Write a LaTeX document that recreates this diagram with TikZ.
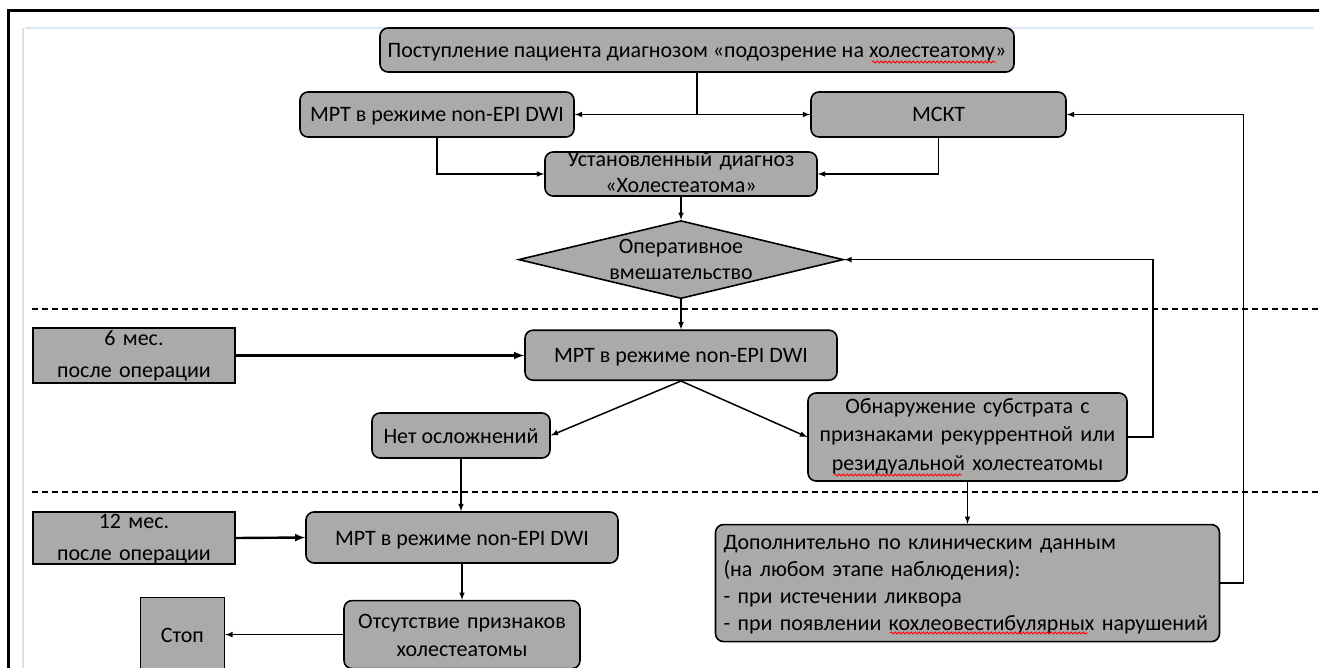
\documentclass[tikz,border=0pt]{standalone}
\usepackage{fontspec}
\setmainfont{Carlito}
\usepackage{tikz}
\usetikzlibrary{shapes,arrows,positioning,decorations.pathmorphing}
\definecolor{boxgray}{RGB}{172, 169, 169}
\definecolor{pageline}{RGB}{220, 231, 241}
\tikzstyle{box} = [rectangle, rounded corners=8pt, draw=black, line width=1.6pt, fill=boxgray, text=black, font=\fontsize{22}{27}\selectfont, inner sep=4pt, text height=15pt, text depth=0pt]
\tikzstyle{period} = [box, sharp corners]
\tikzstyle{decision} = [diamond, draw=black, line width=1.6pt, fill=boxgray, text=black, aspect=4.17, inner sep=0pt, align=center, font=\fontsize{22}{26}\selectfont]
\tikzstyle{tedge} = [draw, line width=1.5pt, >=latex, ->]
\tikzstyle{tstep} = [draw, line width=2.4pt, >=latex, ->]
\tikzstyle{sep} = [draw, line width=1.4pt, dash pattern=on 6pt off 4pt]
\tikzstyle{spell} = [draw=red, line width=0.8pt, decorate, decoration={snake, segment length=4pt, amplitude=1.1pt}]

\begin{document}
\begin{tikzpicture}[x=1pt, y=1pt]
\useasboundingbox (0,0) rectangle (1319,-668);

% page frame
\draw[pageline, line width=1.5pt] (25,-28) -- (1313,-28);
\draw[gray!25, line width=1.2pt] (23,-28) -- (23,-670);
\draw[line width=3pt] (8,-670) -- (8,-11) -- (1319,-11);

% stage separators
\draw[sep] (32,-309) -- (1319,-309);
\draw[sep] (32,-492) -- (1319,-492);

% diagnosis ==================================
\node[box, minimum width=634pt, minimum height=44pt] (admit) at (697,-50) {Поступление пациента диагнозом «подозрение на холестеатому»};
\node[box, minimum width=274pt, minimum height=45pt] (mri) at (437,-114.5) {МРТ в режиме non-EPI DWI};
\node[box, minimum width=255pt, minimum height=45pt] (msct) at (938.5,-114.5) {МСКТ};
\node[box, minimum width=272pt, minimum height=44pt, text width=264pt, align=center, font=\fontsize{22}{26}\selectfont, text height=0pt, text depth=14pt] (diag) at (681,-174) {Установленный диагноз\\«Холестеатома»};
\node[decision, minimum width=325pt, minimum height=78pt, text width=170pt, text height=0pt, text depth=12pt, below=23pt of diag] (surg) {Оперативное\\вмешательство};

% edges
\path[tedge] (admit.south) |- (mri.east);
\path[tedge] (admit.south) |- (msct.west);
\path[tedge] (mri.south) |- (diag.west);
\path[tedge] (msct.south) |- (diag.east);
\path[tedge] (diag) -- (surg);

% 6 months ===================================
\node[period, minimum width=202pt, minimum height=55pt, text width=194pt, align=center, font=\fontsize{22}{32}\selectfont, text height=0pt, text depth=21pt] (six) at (134,-355.5) {6 мес.\\после операции};
\node[box, minimum width=312pt, minimum height=50pt, below=30pt of surg] (mri6) {МРТ в режиме non-EPI DWI};
\node[box, minimum width=178pt, minimum height=45pt] (clean) at (461,-435.5) {Нет осложнений};
\node[box, minimum width=319pt, minimum height=88pt, text width=311pt, align=center, font=\fontsize{22}{28.5}\selectfont, text height=0pt, text depth=48pt] (relapse) at (967.5,-437) {Обнаружение субстрата с\\признаками рекуррентной или\\резидуальной холестеатомы};

% edges
\path[tstep] (six.east) -- (six.east -| mri6.west);
\path[tedge] (surg) -- (mri6);
\path[tedge] (mri6.south) -- (clean.east);
\path[tedge] (mri6.south) -- (relapse.west);
\path[tedge] (relapse.east) -- ++(25,0) |- (surg.east);

% 12 months ==================================
\node[period, minimum width=202pt, minimum height=52pt, text width=194pt, align=center, font=\fontsize{22}{32}\selectfont, text height=0pt, text depth=20pt] (twelve) at (134,-538) {12 мес.\\после операции};
\node[box, minimum width=312pt, minimum height=51pt] (mri12) at (462,-537.5) {МРТ в режиме non-EPI DWI};
\node[box, minimum width=236pt, minimum height=68pt, text width=228pt, align=center, font=\fontsize{22}{28}\selectfont, text height=0pt, text depth=12pt, below=36pt of mri12] (absent) {Отсутствие признаков\\холестеатомы};
\node[period, minimum width=84pt, minimum height=74pt, left=118pt of absent] (stop) {Стоп};
\node[box, minimum width=504pt, minimum height=117pt, text width=488pt, inner xsep=8pt, align=left, text height=0pt, text depth=67pt, below=42pt of relapse] (extra) {Дополнительно по клиническим данным\\(на любом этапе наблюдения):\\- при истечении ликвора\\- при появлении кохлеовестибулярных нарушений};

% edges
\path[tstep] (twelve.east) -- (mri12.west);
\path[tedge] (clean.south) -- (clean.south |- mri12.north);
\path[tedge] (mri12) -- (absent);
\path[tedge] (absent) -- (stop);
\path[tedge] (relapse.south) -- (relapse.south |- extra.north);
\path[tedge] (extra.east) -- ++(23,0) |- (msct.east);

% spelling marks
\draw[spell] (872,-62) -- (996,-62);
\draw[spell] (834,-475) -- (962,-475);
\draw[spell] (890,-633) -- (1088,-633);

\end{tikzpicture}
\end{document}
